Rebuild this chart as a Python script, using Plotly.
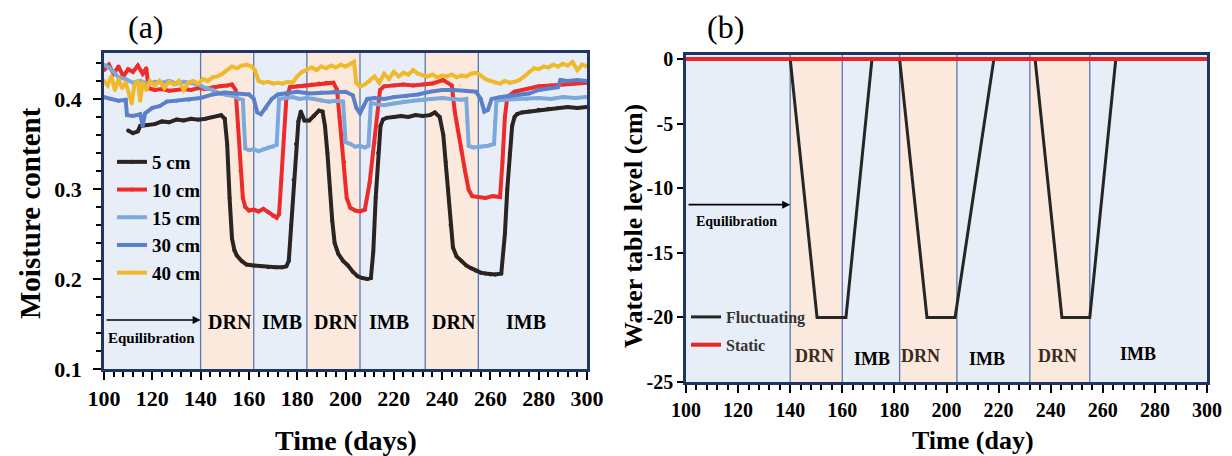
import plotly.graph_objects as go

# ---------------- Panel (a) data: moisture content ----------------
days_5 = [110, 112, 114, 115, 118, 121, 124, 127, 130, 133, 136, 139, 142, 145, 147, 148.5, 150, 151, 152, 153, 154,
          155, 157, 159, 162, 165, 168, 171, 174, 175.5, 176.5, 177.5, 178.5, 179.5, 180.5, 181.5, 183, 185, 187, 189,
          190.5, 191.5, 192.5, 193.5, 194.5, 195.5, 197, 199, 201, 203, 205, 207, 209, 210.5, 211.5, 212.5, 213.5,
          214.5, 215.5, 217, 220, 223, 226, 229, 232, 235, 237, 239, 240.5, 241.5, 242.5, 243.5, 244.5, 246, 248,
          250, 252, 254, 256, 258, 260, 262, 264.5, 266, 267, 268, 269, 270, 271, 273, 276, 280, 284, 288, 292, 296,
          300]
mc_5 = [0.365, 0.362, 0.364, 0.370, 0.371, 0.372, 0.375, 0.374, 0.377, 0.376, 0.378, 0.377, 0.378, 0.380, 0.381,
        0.382, 0.378, 0.350, 0.290, 0.245, 0.232, 0.226, 0.220, 0.216, 0.215, 0.214, 0.213, 0.213, 0.213, 0.214,
        0.220, 0.260, 0.310, 0.350, 0.375, 0.386, 0.376, 0.376, 0.381, 0.387, 0.386, 0.370, 0.340, 0.300, 0.265,
        0.240, 0.228, 0.220, 0.215, 0.208, 0.203, 0.201, 0.200, 0.201, 0.230, 0.290, 0.340, 0.370, 0.377, 0.379,
        0.380, 0.381, 0.380, 0.382, 0.381, 0.382, 0.385, 0.380, 0.360, 0.330, 0.300, 0.260, 0.235, 0.225, 0.220,
        0.215, 0.212, 0.209, 0.207, 0.206, 0.205, 0.205, 0.206, 0.250, 0.300, 0.340, 0.370, 0.380, 0.383, 0.385,
        0.386, 0.388, 0.389, 0.390, 0.391, 0.390, 0.391]

days_10 = [100, 102, 104, 106, 108, 110, 112, 114, 116, 117.5, 118.5, 121, 124, 127, 130, 133, 136, 139, 142, 145,
           148, 151, 153, 154.5, 155.5, 156.5, 157.5, 158.5, 160, 162, 164, 166, 168, 170, 171.5, 172.5, 173.5,
           174.5, 175.5, 177, 180, 183, 186, 189, 192, 195, 196.5, 197.5, 198.5, 199.5, 200.5, 202, 204, 206, 208,
           210, 212, 214.3, 216, 220, 224, 228, 232, 236, 240.4, 244, 245.3, 246.5, 248, 249.5, 251, 252.5, 255,
           258, 261, 264, 265, 266, 267, 270, 275, 280, 285, 290, 295, 300]
mc_10 = [0.432, 0.438, 0.428, 0.436, 0.425, 0.433, 0.430, 0.437, 0.428, 0.434, 0.412, 0.410, 0.411, 0.409, 0.410,
         0.411, 0.410, 0.412, 0.411, 0.413, 0.414, 0.415, 0.416, 0.410, 0.370, 0.320, 0.290, 0.280, 0.276, 0.277,
         0.275, 0.278, 0.274, 0.270, 0.268, 0.272, 0.310, 0.360, 0.400, 0.413, 0.414, 0.415, 0.416, 0.417, 0.418,
         0.418, 0.410, 0.380, 0.360, 0.330, 0.290, 0.279, 0.276, 0.275, 0.277, 0.307, 0.351, 0.410, 0.414, 0.415,
         0.416, 0.415, 0.416, 0.417, 0.421, 0.415, 0.385, 0.365, 0.343, 0.320, 0.299, 0.292, 0.291, 0.290, 0.292,
         0.291, 0.330, 0.380, 0.402, 0.408, 0.411, 0.414, 0.415, 0.416, 0.417, 0.418]

days_15 = [100, 102, 104, 106, 109, 112, 115, 118, 121, 124, 127, 130, 133, 136, 139, 142, 145, 148, 151, 154, 156,
           157.5, 158, 158.5, 160, 162, 164, 166, 168, 170, 171.5, 172, 172.5, 175, 178, 181, 184, 187, 190, 193,
           196, 199, 199.5, 200, 202, 204, 206, 208, 209.5, 210, 210.5, 213, 216, 220, 224, 228, 232, 236, 240, 244,
           248, 250, 250.5, 251, 253, 256, 259, 261.5, 262, 262.5, 265, 270, 275, 280, 285, 290, 295, 300]
mc_15 = [0.438, 0.435, 0.430, 0.424, 0.422, 0.418, 0.420, 0.417, 0.419, 0.418, 0.420, 0.417, 0.419, 0.418, 0.416,
         0.412, 0.410, 0.406, 0.404, 0.403, 0.400, 0.399, 0.370, 0.345, 0.343, 0.344, 0.342, 0.344, 0.346, 0.347,
         0.349, 0.375, 0.400, 0.401, 0.402, 0.400, 0.401, 0.400, 0.398, 0.397, 0.398, 0.397, 0.375, 0.352, 0.350,
         0.347, 0.348, 0.346, 0.348, 0.375, 0.396, 0.394, 0.393, 0.395, 0.397, 0.398, 0.399, 0.400, 0.401, 0.400,
         0.399, 0.400, 0.375, 0.348, 0.346, 0.347, 0.348, 0.350, 0.375, 0.398, 0.399, 0.400, 0.400, 0.401, 0.400,
         0.402, 0.401, 0.402]

days_30 = [100, 103, 106, 109, 109.5, 112, 115, 116, 117, 120, 123, 126, 130, 135, 140, 145, 150, 155, 160, 162,
           163.5, 165, 167, 169.5, 172, 176, 180, 185, 190, 195, 200, 203, 204.5, 206, 207.5, 209, 212, 216, 220,
           225, 230, 235, 240, 245, 250, 254, 256, 257.5, 259, 260.5, 264, 268, 272, 276, 280, 284, 288, 289, 292,
           296, 300]
mc_30 = [0.402, 0.400, 0.398, 0.399, 0.382, 0.381, 0.383, 0.370, 0.384, 0.390, 0.392, 0.397, 0.398, 0.399, 0.401,
         0.405, 0.407, 0.406, 0.405, 0.400, 0.385, 0.383, 0.390, 0.400, 0.405, 0.407, 0.408, 0.406, 0.407, 0.408,
         0.408, 0.404, 0.390, 0.384, 0.392, 0.400, 0.401, 0.400, 0.402, 0.403, 0.405, 0.408, 0.410, 0.410, 0.409,
         0.408, 0.400, 0.386, 0.388, 0.400, 0.402, 0.403, 0.405, 0.406, 0.410, 0.412, 0.413, 0.421, 0.420, 0.421,
         0.420]

days_40 = [100, 101.5, 103, 104.5, 106, 107.5, 109, 110.5, 111.5, 112.5, 114, 115, 116, 117.5, 119, 121, 123, 125,
           127, 129, 131, 133, 135, 137, 139, 141, 143, 145, 147, 149, 151, 153, 155, 157, 159, 161, 162.5, 164,
           166, 168, 170, 172, 174, 176, 178, 180, 182, 184, 186, 188, 190, 192, 194, 196, 198, 200, 202, 203.5,
           204.5, 206, 208, 210, 212, 214, 216, 218, 220, 222, 224, 226, 228, 230, 232, 234, 236, 238, 240, 242,
           244, 246, 248, 250, 252, 254, 256, 258, 260, 262, 264, 266, 268, 270, 272, 274, 276, 278, 280, 282, 284,
           286, 288, 290, 292, 294, 296, 298, 300]
mc_40 = [0.420, 0.415, 0.425, 0.410, 0.422, 0.412, 0.418, 0.405, 0.395, 0.415, 0.420, 0.398, 0.418, 0.410, 0.420,
         0.415, 0.420, 0.412, 0.419, 0.416, 0.420, 0.410, 0.418, 0.420, 0.417, 0.422, 0.420, 0.424, 0.425, 0.428,
         0.432, 0.436, 0.434, 0.437, 0.438, 0.436, 0.432, 0.420, 0.418, 0.419, 0.417, 0.418, 0.417, 0.419, 0.418,
         0.425, 0.430, 0.433, 0.435, 0.432, 0.436, 0.434, 0.437, 0.435, 0.438, 0.436, 0.439, 0.441, 0.418, 0.414,
         0.416, 0.420, 0.425, 0.418, 0.428, 0.422, 0.430, 0.425, 0.429, 0.427, 0.432, 0.428, 0.426, 0.425, 0.427,
         0.424, 0.426, 0.425, 0.427, 0.424, 0.426, 0.425, 0.428, 0.429, 0.426, 0.422, 0.420, 0.418, 0.417, 0.420,
         0.418, 0.419, 0.421, 0.425, 0.430, 0.434, 0.433, 0.436, 0.435, 0.438, 0.436, 0.439, 0.437, 0.441, 0.432,
         0.438, 0.436]

series_names = ["5 cm", "10 cm", "15 cm", "30 cm", "40 cm"]
series_colors = ["#2a2422", "#ee2b2b", "#7ca9dc", "#5b80c9", "#f0b92c"]

# phase boundaries (days) and types
bounds_a = [100, 140, 162, 184, 206, 233, 255, 300]
bounds_b = [100, 140, 160, 182, 204, 232, 255, 300]
phase_kind = ["EQ", "DRN", "IMB", "DRN", "IMB", "DRN", "IMB"]

# ---------------- Panel (b) data: water table ----------------
wt_days = [100, 140, 150.3, 161.4, 171.4, 182, 192.5, 203.3, 218.2, 234, 244.3, 255, 265, 300]
wt_fluct = [0, 0, -20, -20, 0, 0, -20, -20, 0, 0, -20, -20, 0, 0]
wt_static_days = [100, 300]
wt_static = [0, 0]

# phase labels
labels_a_x = [152.2, 173.7, 196, 218, 245, 274.7]
labels_a_t = ["DRN", "IMB", "DRN", "IMB", "DRN", "IMB"]
labels_b_x = [149.5, 171.4, 190.2, 215.5, 242.8, 273.5]
labels_b_y = [-23.0, -23.2, -23.0, -23.2, -23.0, -22.8]

W, H = 1232, 456
SERIF = "Liberation Serif"
BLUE_BG = "#e8eef8"
ORANGE_BG = "#fce9de"
FRAME = "#1f3563"
DIV = "#5876b0"

fig = go.Figure()

all_days = [days_5, days_10, days_15, days_30, days_40]
all_mc = [mc_5, mc_10, mc_15, mc_30, mc_40]
for i, (d, m) in enumerate(zip(all_days, all_mc)):
    fig.add_trace(go.Scatter(
        x=d, y=m, name=series_names[i], mode="lines+markers",
        line=dict(color=series_colors[i], width=4),
        marker=dict(size=4, color=series_colors[i]),
        xaxis="x", yaxis="y", legend="legend", legendgroup=f"a{i}"))

fig.add_trace(go.Scatter(x=wt_days, y=wt_fluct, name="Fluctuating", mode="lines",
                         line=dict(color="#262626", width=3), xaxis="x2", yaxis="y2",
                         legend="legend2", legendgroup="b0"))
fig.add_trace(go.Scatter(x=wt_static_days, y=wt_static, name="Static", mode="lines",
                         line=dict(color="#e8262a", width=4), xaxis="x2", yaxis="y2",
                         legend="legend2", legendgroup="b1"))

shapes = []
for xr, yr, bounds in (("x", "y domain", bounds_a), ("x2", "y2 domain", bounds_b)):
    for k in range(len(bounds) - 1):
        color = ORANGE_BG if phase_kind[k] == "DRN" else BLUE_BG
        shapes.append(dict(type="rect", xref=xr, yref=yr, x0=bounds[k], x1=bounds[k + 1], y0=0, y1=1,
                           fillcolor=color, line=dict(width=0), layer="below"))
    for b in bounds[1:-1]:
        shapes.append(dict(type="line", xref=xr, yref=yr, x0=b, x1=b, y0=0, y1=1,
                           line=dict(color=DIV, width=1.3), layer="below"))

C = dict(xanchor="center", yanchor="middle", showarrow=False)
ann = []
# panel titles
ann.append(dict(text="(a)", x=146 / W, y=1 - 27 / H, xref="paper", yref="paper",
                font=dict(family=SERIF, size=32, color="black"), **C))
ann.append(dict(text="(b)", x=725 / W, y=1 - 27 / H, xref="paper", yref="paper",
                font=dict(family=SERIF, size=32, color="black"), **C))
# axis titles
ann.append(dict(text="<b>Moisture content</b>", x=30 / W, y=1 - 213 / H, xref="paper", yref="paper",
                textangle=-90, font=dict(family=SERIF, size=29, color="black"), **C))
ann.append(dict(text="<b>Time (days)</b>", x=346 / W, y=1 - 440 / H, xref="paper", yref="paper",
                font=dict(family=SERIF, size=28, color="black"), **C))
ann.append(dict(text="<b>Water table level (cm)</b>", x=633 / W, y=1 - 226 / H, xref="paper", yref="paper",
                textangle=-90, font=dict(family=SERIF, size=26, color="black"), **C))
ann.append(dict(text="<b>Time (day)</b>", x=973 / W, y=1 - 440 / H, xref="paper", yref="paper",
                font=dict(family=SERIF, size=26, color="black"), **C))
# phase labels
for xv, t in zip(labels_a_x, labels_a_t):
    ann.append(dict(text=f"<b>{t}</b>", x=xv, y=0.152, xref="x", yref="y",
                    font=dict(family=SERIF, size=20, color="black"), **C))
for xv, yv, t in zip(labels_b_x, labels_b_y, labels_a_t):
    ann.append(dict(text=f"<b>{t}</b>", x=xv, y=yv, xref="x2", yref="y2",
                    font=dict(family=SERIF, size=18, color="#3d2b1f" if t == "DRN" else "black"), **C))
# equilibration arrows
ann.append(dict(text="", x=140, y=0.1544, ax=100.4, ay=0.1544, xref="x", yref="y", axref="x", ayref="y",
                showarrow=True, arrowhead=2, arrowsize=1, arrowwidth=1.6, arrowcolor="black"))
ann.append(dict(text="<b>Equilibration</b>", x=119.5, y=0.134, xref="x", yref="y",
                font=dict(family=SERIF, size=15, color="black"), **C))
ann.append(dict(text="", x=140, y=-11.28, ax=100.4, ay=-11.28, xref="x2", yref="y2", axref="x2", ayref="y2",
                showarrow=True, arrowhead=2, arrowsize=1, arrowwidth=1.6, arrowcolor="black"))
ann.append(dict(text="<b>Equilibration</b>", x=119.2, y=-12.6, xref="x2", yref="y2",
                font=dict(family=SERIF, size=14, color="black"), **C))

tickfont_a = dict(family=SERIF, size=22, color="black", weight="bold")
tickfont_b = dict(family=SERIF, size=20, color="black", weight="bold")

axis_common = dict(showgrid=False, zeroline=False, showline=True, mirror=True, linecolor=FRAME, linewidth=2.5,
                   ticks="outside", tickcolor="black", tickwidth=2, automargin=False)

fig.update_layout(
    width=W, height=H, margin=dict(l=0, r=0, t=0, b=0, autoexpand=False),
    paper_bgcolor="white", plot_bgcolor="white",
    showlegend=True,
    xaxis=dict(domain=[104 / W, 587 / W], range=[100, 300], dtick=20, tick0=100, ticklen=8,
               tickfont=tickfont_a, ticklabelstandoff=0,
               minor=dict(dtick=4, ticks="outside", ticklen=5, tickcolor="black", tickwidth=1.5),
               anchor="y", **axis_common),
    yaxis=dict(domain=[1 - 369 / H, 1 - 53 / H], range=[0.1, 0.451], tickvals=[0.1, 0.2, 0.3, 0.4],
               ticktext=["0.1", "0.2", "0.3", "0.4"], ticklen=8, tickfont=tickfont_a, ticklabelstandoff=7,
               minor=dict(dtick=0.02, tick0=0.1, ticks="outside", ticklen=5, tickcolor="black", tickwidth=1.5),
               anchor="x", **axis_common),
    xaxis2=dict(domain=[686 / W, 1207 / W], range=[100, 300], dtick=20, tick0=100, ticklen=8,
                tickfont=tickfont_b, ticklabelstandoff=0,
                minor=dict(dtick=4, ticks="outside", ticklen=5, tickcolor="black", tickwidth=1.5),
                anchor="y2", **axis_common),
    yaxis2=dict(domain=[1 - 382 / H, 1 - 55 / H], range=[-25, 0.3], tickvals=[0, -5, -10, -15, -20, -25],
                ticktext=["0", "-5", "-10", "-15", "-20", "-25"], ticklen=6, tickfont=tickfont_b,
                ticklabelstandoff=0, anchor="x2", **axis_common),
    legend=dict(x=112 / W, y=1 - 143 / H, xanchor="left", yanchor="top", bgcolor="rgba(0,0,0,0)",
                borderwidth=0, tracegroupgap=0, itemwidth=30,
                font=dict(family=SERIF, size=19, color="black", weight="bold")),
    legend2=dict(x=686 / W, y=1 - 300 / H, xanchor="left", yanchor="top", bgcolor="rgba(0,0,0,0)",
                 borderwidth=0, tracegroupgap=4, itemwidth=30,
                 font=dict(family=SERIF, size=16, color="#333333", weight="bold")),
    shapes=shapes, annotations=ann,
)

fig.write_html("out.html")
